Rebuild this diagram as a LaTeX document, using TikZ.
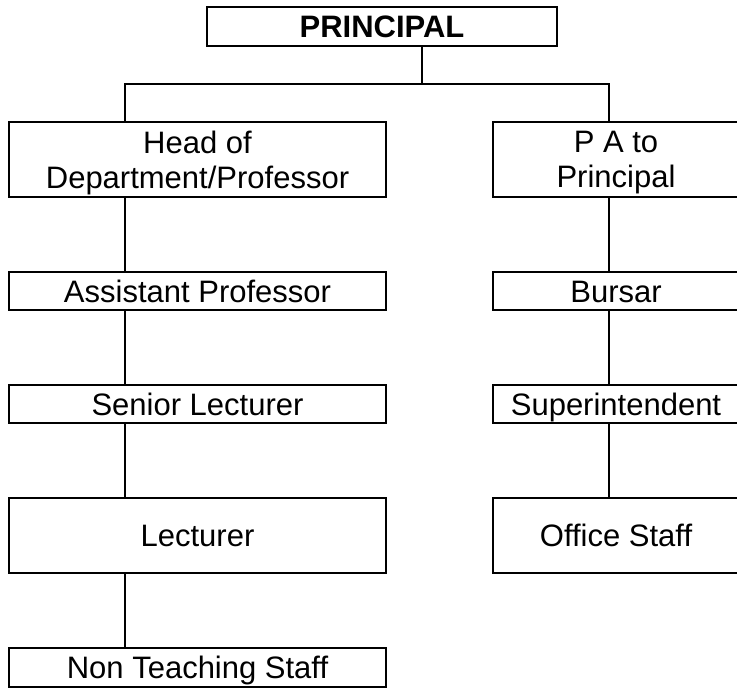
\documentclass[tikz,border=0pt]{standalone}
\usepackage{fontspec}
\setmainfont{Liberation Sans}
\usepackage{tikz}
\usetikzlibrary{positioning,calc}
\tikzset{
    post/.style={rectangle, draw, line width=1.4pt, inner sep=0pt, align=center, text height=22pt, text depth=0pt, font=\fontsize{31}{35}\selectfont},
    head post/.style={post, minimum width=350pt, minimum height=39pt, font=\fontsize{31}{35}\selectfont\bfseries},
    staff post/.style={post, minimum width=377pt},
    office post/.style={post, minimum width=246pt},
    tall post/.style={minimum height=75pt},
    short post/.style={minimum height=38pt},
    two lines/.style={text height=},
    link/.style={line width=1.4pt, black}
}

\begin{document}
\begin{tikzpicture}[x=1pt, y=-1pt]
    \useasboundingbox (0,0) rectangle (737,688);

    % Top of the chart
    \node[head post] (principal) at (382,26.5) {PRINCIPAL};

    % Teaching side - left column
    \node[staff post, tall post, two lines] (hod) at (197.5,159.5) {Head of\\Department/Professor};
    \node[staff post, short post] (asst) at (197.5,291) {Assistant Professor};
    \node[staff post, short post] (senior) at (197.5,404) {Senior Lecturer};
    \node[staff post, tall post] (lect) at (197.5,535.5) {Lecturer};
    \node[staff post, minimum height=39pt] (nonteach) at (197.5,667.5) {Non Teaching Staff};

    % Office side - right column
    \node[office post, tall post, two lines] (pa) at (616,159.5) {P A to\\Principal};
    \node[office post, short post] (bursar) at (616,291) {Bursar};
    \node[office post, short post] (supt) at (616,404) {Superintendent};
    \node[office post, tall post] (office) at (616,535.5) {Office Staff};

    % Line positions (lines are not centred on the boxes)
    \coordinate (mid x) at (422,0);
    \coordinate (left x) at (125,0);
    \coordinate (right x) at (609,0);
    \coordinate (bar) at (0,84);

    % Branch from the principal
    \draw[link] (principal.south -| mid x) -- (mid x |- bar);
    \draw[link] (hod.north -| left x) -- (left x |- bar) -- (right x |- bar) -- (pa.north -| right x);

    % Left chain
    \draw[link] (hod.south -| left x) -- (asst.north -| left x);
    \draw[link] (asst.south -| left x) -- (senior.north -| left x);
    \draw[link] (senior.south -| left x) -- (lect.north -| left x);
    \draw[link] (lect.south -| left x) -- (nonteach.north -| left x);

    % Right chain
    \draw[link] (pa.south -| right x) -- (bursar.north -| right x);
    \draw[link] (bursar.south -| right x) -- (supt.north -| right x);
    \draw[link] (supt.south -| right x) -- (office.north -| right x);
\end{tikzpicture}
\end{document}
